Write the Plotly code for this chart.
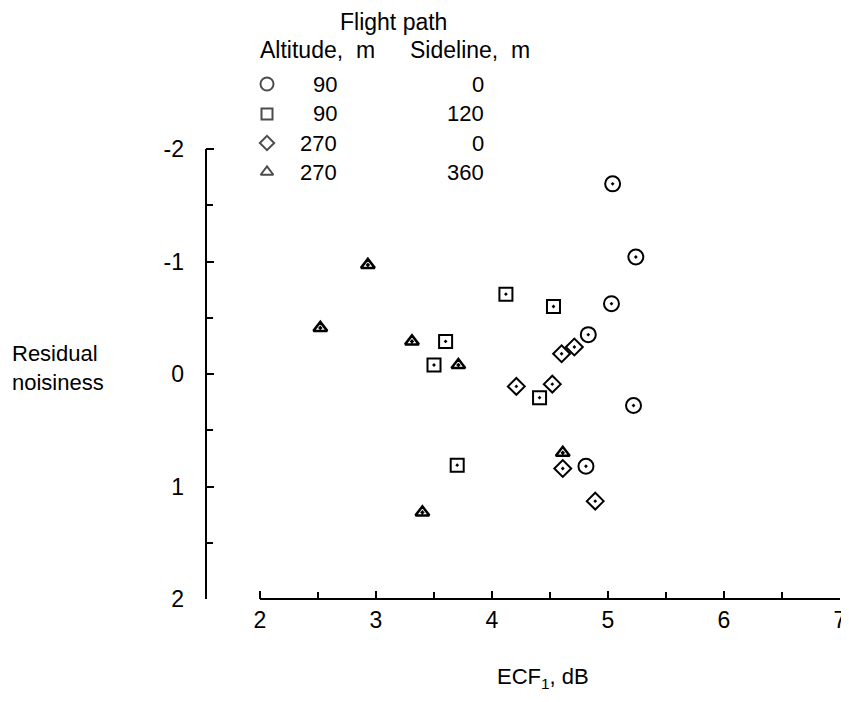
import plotly.graph_objects as go

# ---------------- data ----------------
circ_x = [5.04, 5.24, 5.03, 4.83, 5.22, 4.81]
circ_y = [-1.69, -1.04, -0.625, -0.35, 0.28, 0.82]

sq_x = [4.12, 4.53, 3.60, 3.50, 4.41, 3.70]
sq_y = [-0.71, -0.60, -0.29, -0.08, 0.21, 0.81]

dia_x = [4.71, 4.60, 4.21, 4.52, 4.61, 4.89]
dia_y = [-0.24, -0.18, 0.11, 0.09, 0.84, 1.13]

tri_x = [2.93, 2.52, 3.31, 3.71, 4.61, 3.40]
tri_y = [-0.97, -0.41, -0.29, -0.08, 0.70, 1.23]

x_ticks = [2, 3, 4, 5, 6, 7]
x_minor = [2.5, 3.5, 4.5, 5.5, 6.5]
y_ticks = [-2, -1, 0, 1, 2]
y_ticktext = ["-2", "-1", "0", "1", "2"]
y_minor = [-1.5, -0.5, 0.5, 1.5]

legend_altitude = ["90", "90", "270", "270"]
legend_sideline = ["0", "120", "0", "360"]
legend_symbols = ["circle-open", "square-open", "diamond-open", "triangle-up-open"]
legend_sizes = [13, 11, 11, 11]

# ---------------- layout (page pixel geometry) ----------------
OFF = 8                          # default body margin of the html page
W, H = 849 - OFF, 702 - 2 * OFF  # figure size (fits the window with body margins)
PLOT_L, PLOT_R = 206, 840        # page x of plot-area edges
PLOT_T, PLOT_B = OFF, 599        # page y of plot-area edges
L = PLOT_L - OFF
R = W - (PLOT_R - OFF)
T = PLOT_T - OFF
B = H - (PLOT_B - OFF)
PW, PH = W - L - R, H - T - B

PX_PER_X = 116.0
PX_PER_Y = 112.5
X0 = 2 - (260 - PLOT_L) / PX_PER_X
X1 = X0 + PW / PX_PER_X
Y0 = 2
Y1 = 2 - PH / PX_PER_Y
FONT = "Liberation Sans, Arial, sans-serif"


def pxx(p):   # page x -> paper
    return (p - PLOT_L) / PW


def pxy(p):   # page y -> paper
    return (PLOT_B - p) / PH


def dx(p):    # page x -> data
    return X0 + (p - PLOT_L) / PX_PER_X


def dy(p):    # page y -> data
    return Y0 - (PLOT_B - p) / PX_PER_Y


fig = go.Figure()

mk = dict(color="black", line=dict(color="black", width=2))
fig.add_trace(go.Scatter(x=circ_x, y=circ_y, mode="markers",
                         marker=dict(symbol="circle-open-dot", size=15, **mk)))
fig.add_trace(go.Scatter(x=sq_x, y=sq_y, mode="markers",
                         marker=dict(symbol="square-open-dot", size=13, **mk)))
fig.add_trace(go.Scatter(x=dia_x, y=dia_y, mode="markers",
                         marker=dict(symbol="diamond-open-dot", size=13, **mk)))
fig.add_trace(go.Scatter(x=tri_x, y=tri_y, mode="markers",
                         marker=dict(symbol="triangle-up-open-dot", size=12,
                                     color="black", line=dict(color="black", width=2.5))))

# legend symbols
row_py = [84, 114, 143, 172]
fig.add_trace(go.Scatter(
    x=[dx(267)] * 4, y=[dy(p) for p in row_py], mode="markers",
    marker=dict(symbol=legend_symbols, size=legend_sizes, color="black",
                line=dict(color="black", width=2))))

ann = []
tf = dict(family=FONT, size=22, color="black")
hf = dict(family=FONT, size=23, color="black")
kf = dict(family=FONT, size=23, color="black")


def add_text(text, px, py, xanchor="center", font=tf, align="center"):
    ann.append(dict(text=text, x=pxx(px), y=pxy(py), xanchor=xanchor, yanchor="middle",
                    align=align, xref="paper", yref="paper", showarrow=False, font=font))


add_text("Flight path", 393, 22, font=hf)
add_text("Altitude,  m", 258, 50, "left", hf)
add_text("Sideline,  m", 408, 50, "left", hf)
for p, a, s in zip(row_py, legend_altitude, legend_sideline):
    add_text(a, 339, p, "right")
    add_text(s, 486, p, "right")
add_text("Residual<br>noisiness", 10, 368, "left", tf, "left")
add_text("ECF<sub>1</sub>, dB", 543, 678)

fig.update_layout(
    width=W, height=H, margin=dict(l=L, r=R, t=T, b=B, pad=0),
    paper_bgcolor="white", plot_bgcolor="white", showlegend=False,
    font=dict(family=FONT, size=22, color="black"),
    annotations=ann,
    shapes=[
        dict(type="line", xref="x", yref="paper", x0=x_ticks[0], x1=x_ticks[-1],
             y0=0, y1=0, line=dict(color="black", width=2), layer="above"),
        dict(type="line", xref="paper", yref="y", x0=0, x1=0,
             y0=y_ticks[0], y1=y_ticks[-1], line=dict(color="black", width=2), layer="above"),
    ],
    xaxis=dict(range=[X0, X1], showline=False, showgrid=False, zeroline=False,
               tickmode="array", tickvals=x_ticks, ticks="inside", ticklen=8,
               tickwidth=2, tickcolor="black", ticklabelstandoff=5,
               tickfont=kf,
               minor=dict(tickmode="array", tickvals=x_minor, ticks="inside",
                          ticklen=7, tickwidth=1.5, tickcolor="black", showgrid=False)),
    yaxis=dict(range=[Y0, Y1], showline=False, showgrid=False, zeroline=False,
               tickmode="array", tickvals=y_ticks,
               ticktext=y_ticktext, ticks="inside", ticklen=8, tickwidth=2,
               tickcolor="black", ticklabelstandoff=21,
               tickfont=kf,
               minor=dict(tickmode="array", tickvals=y_minor, ticks="inside",
                          ticklen=7, tickwidth=1.5, tickcolor="black", showgrid=False)),
)

fig.write_html("out.html")
